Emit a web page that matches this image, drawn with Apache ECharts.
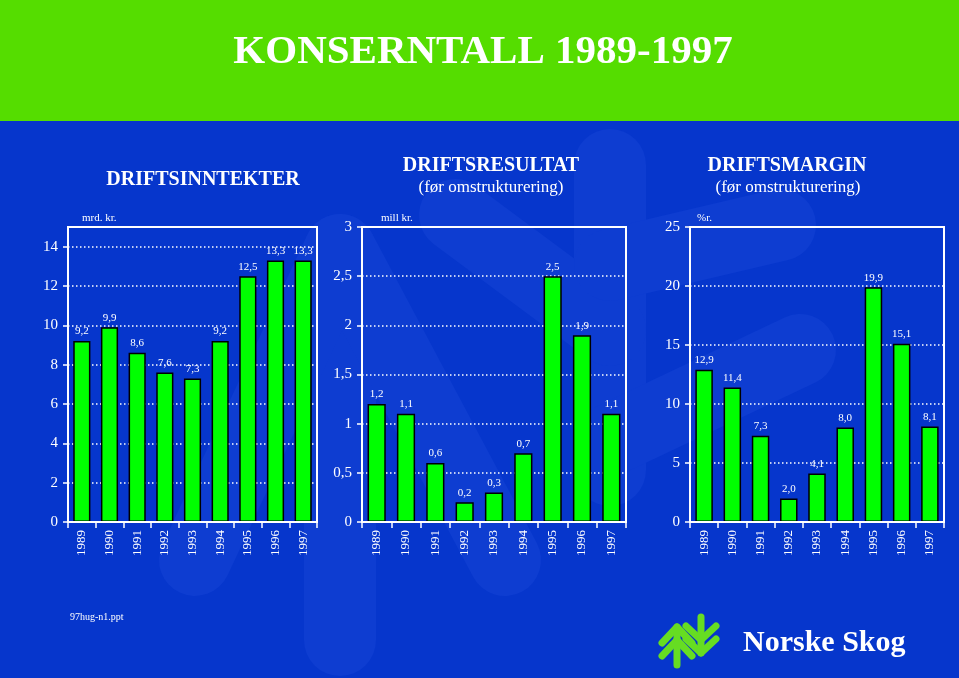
<!DOCTYPE html>
<html><head><meta charset="utf-8">
<script src="https://cdn.jsdelivr.net/npm/echarts@6/dist/echarts.min.js"></script>
<style>html,body{margin:0;padding:0;background:#0636cc}#c{width:959px;height:678px}</style>
</head><body><div id="c"></div>
<script>
const years = ['1989','1990','1991','1992','1993','1994','1995','1996','1997'];
const driftsinntekter = [9.2, 9.9, 8.6, 7.6, 7.3, 9.2, 12.5, 13.3, 13.3];
const driftsresultat = [1.2, 1.1, 0.6, 0.2, 0.3, 0.7, 2.5, 1.9, 1.1];
const driftsmargin = [12.9, 11.4, 7.3, 2.0, 4.1, 8.0, 19.9, 15.1, 8.1];
const axisMax = [15, 3, 25];
const axisInterval = [2, 0.5, 5];
const panelTitles = ['DRIFTSINNTEKTER', 'DRIFTSRESULTAT', 'DRIFTSMARGIN'];
const panelSub = ['', '(før omstrukturering)', '(før omstrukturering)'];
const units = ['mrd. kr.', 'mill kr.', '%r.'];
const title = 'KONSERNTALL 1989-1997';

const FONT = '"Liberation Serif", "Times New Roman", serif';
const fmt = v => String(v).replace('.', ',');

const grids = [
  {left: 68, top: 227, width: 249, height: 295},
  {left: 362, top: 227, width: 264, height: 295},
  {left: 690, top: 227, width: 254, height: 295}
];
const seriesData = [driftsinntekter, driftsresultat, driftsmargin];

const chart = echarts.init(document.getElementById('c'), null, {renderer: 'canvas'});

const WM = '#0e3dd1';
const wmLine = pts => ({type: 'polyline', z: -20, silent: true, shape: {points: pts},
  style: {stroke: WM, lineWidth: 72, lineCap: 'round', lineJoin: 'round', fill: null}});
const LOGO = '#66dd22';
const logoLine = pts => ({type: 'polyline', z: 10, shape: {points: pts},
  style: {stroke: LOGO, lineWidth: 7, lineCap: 'round', lineJoin: 'round', fill: null}});
const txt = (text, x, y, font, align) => ({type: 'text', z: 10, style: {text: text, x: x, y: y,
  align: align || 'center', verticalAlign: 'middle', fill: '#fff', font: font}});

const graphic = [
  // faint watermark of the logo
  wmLine([[340, 250], [340, 640]]),
  wmLine([[195, 560], [340, 250], [505, 560]]),
  wmLine([[610, 165], [610, 470]]),
  wmLine([[455, 215], [610, 330]]),
  wmLine([[610, 265], [780, 225]]),
  wmLine([[610, 440], [800, 350]]),
  {type: 'rect', z: -5, shape: {x: 0, y: 0, width: 959, height: 121}, style: {fill: '#55dd00'}},
  txt(title, 483, 52, 'bold 41px ' + FONT),
  txt(panelTitles[0], 203, 180, 'bold 20px ' + FONT),
  txt(panelTitles[1], 491, 166, 'bold 20px ' + FONT),
  txt(panelSub[1], 491, 188, '17px ' + FONT),
  txt(panelTitles[2], 787, 166, 'bold 20px ' + FONT),
  txt(panelSub[2], 788, 188, '17px ' + FONT),
  txt(units[0], 82, 218, '11px ' + FONT, 'left'),
  txt(units[1], 381, 218, '11px ' + FONT, 'left'),
  txt(units[2], 697, 218, '11px ' + FONT, 'left'),
  txt('97hug-n1.ppt', 70, 617, '10px ' + FONT, 'left'),
  txt('Norske Skog', 743, 643, 'bold 30px ' + FONT, 'left'),
  // logo
  logoLine([[662, 643], [677, 627], [692, 643]]),
  logoLine([[662, 656], [677, 640], [692, 656]]),
  logoLine([[677, 627], [677, 665]]),
  logoLine([[686, 626], [701, 640], [716, 626]]),
  logoLine([[686, 639], [701, 653], [716, 639]]),
  logoLine([[701, 617], [701, 653]])
];

const option = {
  backgroundColor: '#0636cc',
  animation: false,
  textStyle: {fontFamily: FONT},
  graphic: graphic,
  grid: grids.map(g => Object.assign({show: true, borderColor: '#fff', borderWidth: 2, backgroundColor: 'transparent', z: 5}, g)),
  xAxis: grids.map((g, i) => ({
    type: 'category', gridIndex: i, data: years,
    axisLine: {lineStyle: {color: '#fff', width: 2}},
    axisTick: {show: true, length: 6, lineStyle: {color: '#fff', width: 1.5}},
    axisLabel: {rotate: 90, color: '#fff', fontFamily: FONT, fontSize: 13, margin: 8}
  })),
  yAxis: grids.map((g, i) => ({
    type: 'value', gridIndex: i, min: 0, max: axisMax[i], interval: axisInterval[i],
    axisLine: {show: true, lineStyle: {color: '#fff', width: 2}},
    axisTick: {show: true, length: 5, lineStyle: {color: '#fff', width: 1.5}},
    axisLabel: {color: '#fff', fontFamily: FONT, fontSize: 15, margin: 10, formatter: fmt,
      showMaxLabel: i !== 0},
    splitLine: {show: true, lineStyle: {color: '#fff', type: [1.5, 2.5], width: 1.5}}
  })),
  series: seriesData.map((d, i) => ({
    type: 'bar', xAxisIndex: i, yAxisIndex: i, data: d,
    barCategoryGap: '38%',
    itemStyle: {color: '#00ff00', borderColor: '#000', borderWidth: 1.5},
    label: {show: true, position: 'top', distance: 4, color: '#fff', fontFamily: FONT, fontSize: 11,
      formatter: p => p.value.toFixed(1).replace('.', ',')}
  }))
};
chart.setOption(option);
</script></body></html>
